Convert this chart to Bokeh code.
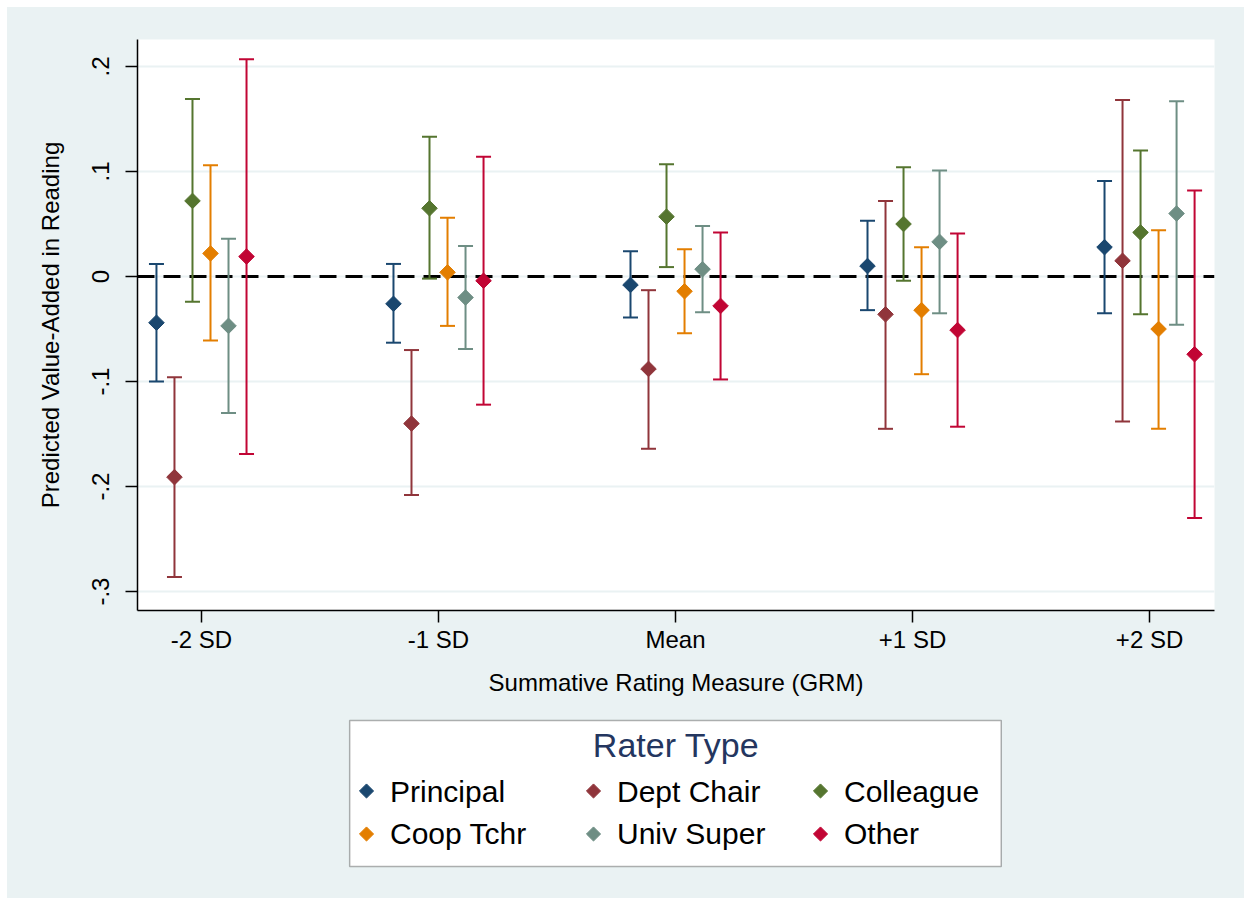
import numpy as np
from bokeh.plotting import figure
from bokeh.layouts import column
from bokeh.models import (ColumnDataSource, Range1d, FixedTicker, Span, Legend,
                          LegendItem, Label, BoxAnnotation)
from bokeh.transform import dodge
from bokeh.embed import file_html
from bokeh.resources import INLINE

# ---------------- data ----------------
categories = ["-2 SD", "-1 SD", "Mean", "+1 SD", "+2 SD"]
raters = ["Principal", "Dept Chair", "Colleague", "Coop Tchr", "Univ Super", "Other"]
colors = ["#1a476f", "#90353b", "#55752f", "#e37e00", "#6e8e84", "#c10534"]

principal_est = [-0.044, -0.026, -0.008, 0.010, 0.028]
principal_lo = [-0.100, -0.063, -0.039, -0.032, -0.035]
principal_hi = [0.012, 0.012, 0.024, 0.053, 0.091]

deptchair_est = [-0.191, -0.140, -0.088, -0.036, 0.015]
deptchair_lo = [-0.286, -0.208, -0.164, -0.145, -0.138]
deptchair_hi = [-0.096, -0.070, -0.013, 0.072, 0.168]

colleague_est = [0.072, 0.065, 0.057, 0.050, 0.042]
colleague_lo = [-0.024, -0.002, 0.009, -0.004, -0.036]
colleague_hi = [0.169, 0.133, 0.107, 0.104, 0.120]

cooptchr_est = [0.022, 0.004, -0.014, -0.032, -0.050]
cooptchr_lo = [-0.061, -0.047, -0.054, -0.093, -0.145]
cooptchr_hi = [0.106, 0.056, 0.026, 0.028, 0.044]

univsuper_est = [-0.047, -0.020, 0.007, 0.033, 0.060]
univsuper_lo = [-0.130, -0.069, -0.034, -0.035, -0.046]
univsuper_hi = [0.036, 0.029, 0.048, 0.101, 0.167]

other_est = [0.019, -0.004, -0.028, -0.051, -0.074]
other_lo = [-0.169, -0.122, -0.098, -0.143, -0.230]
other_hi = [0.207, 0.114, 0.042, 0.041, 0.082]

y_ticks = [-0.3, -0.2, -0.1, 0.0, 0.1, 0.2]
y_tick_labels = ["-.3", "-.2", "-.1", "0", ".1", ".2"]

legend_title = "Rater Type"

series = [
    (principal_est, principal_lo, principal_hi),
    (deptchair_est, deptchair_lo, deptchair_hi),
    (colleague_est, colleague_lo, colleague_hi),
    (cooptchr_est, cooptchr_lo, cooptchr_hi),
    (univsuper_est, univsuper_lo, univsuper_hi),
    (other_est, other_lo, other_hi),
]

FONT = "Liberation Sans"
BG = "#EAF2F3"

x_pos = list(range(1, len(categories) + 1))

# ---------------- main chart ----------------
FIG_W = 1237
BORDER_L, BORDER_R = 130, 30
FRAME_W = FIG_W - BORDER_L - BORDER_R

p = figure(width=FIG_W, height=703,
           x_range=Range1d(0.730, 5.274), y_range=Range1d(-0.318, 0.2257),
           output_backend="svg", toolbar_location=None,
           min_border_left=BORDER_L, min_border_right=BORDER_R,
           min_border_top=32, min_border_bottom=100)
p.background_fill_color = "white"
p.border_fill_color = BG
p.outline_line_color = None

# zero reference line
p.add_layout(Span(location=0, dimension="width", line_color="black",
                  line_width=3, line_dash="17 9", level="underlay"))

step = 0.076
n = len(raters)
for i, (name, col, (e, lo, hi)) in enumerate(zip(raters, colors, series)):
    src = ColumnDataSource(dict(x=x_pos, est=e, lo=lo, hi=hi))
    off = (i - (n - 1) / 2) * step
    xd = dodge("x", off, range=p.x_range)
    p.segment(x0=xd, y0="lo", x1=xd, y1="hi", source=src,
              line_color=col, line_width=2)
    p.scatter(x=xd, y="lo", source=src, marker="dash", size=15,
              line_color=col, line_width=2)
    p.scatter(x=xd, y="hi", source=src, marker="dash", size=15,
              line_color=col, line_width=2)
    p.scatter(x=xd, y="est", source=src, marker="square", angle=np.pi / 4,
              size=11, fill_color=col, line_color=col)

# axes
p.xaxis.ticker = FixedTicker(ticks=x_pos)
p.xaxis.major_label_overrides = {x: c for x, c in zip(x_pos, categories)}
p.yaxis.ticker = FixedTicker(ticks=y_ticks)
p.yaxis.major_label_overrides = {t: l for t, l in zip(y_ticks, y_tick_labels)}
p.yaxis.major_label_orientation = "vertical"

p.xaxis.axis_label = "Summative Rating Measure (GRM)"
p.yaxis.axis_label = "Predicted Value-Added in Reading"

for ax in (p.xaxis[0], p.yaxis[0]):
    ax.axis_line_color = "black"
    ax.axis_line_width = 1.5
    ax.major_tick_line_color = "black"
    ax.major_tick_line_width = 1.5
    ax.major_tick_out = 12
    ax.major_tick_in = 0
    ax.minor_tick_line_color = None
    ax.major_label_text_font = FONT
    ax.major_label_text_font_size = "24px"
    ax.major_label_text_color = "black"
    ax.axis_label_text_font = FONT
    ax.axis_label_text_font_size = "24px"
    ax.axis_label_text_font_style = "normal"
    ax.axis_label_text_color = "black"

p.xaxis.major_label_standoff = 3
p.xaxis.axis_label_standoff = 13
p.yaxis.major_label_standoff = 16
p.yaxis.axis_label_standoff = 26

p.xgrid.visible = False
p.ygrid.ticker = FixedTicker(ticks=y_ticks)
p.ygrid.grid_line_color = BG
p.ygrid.grid_line_width = 2

# ---------------- legend panel ----------------
LG_H = 188
lg = figure(width=FIG_W, height=LG_H, x_range=Range1d(0, 1), y_range=Range1d(0, 1),
            output_backend="svg", toolbar_location=None,
            x_axis_type=None, y_axis_type=None,
            min_border_left=BORDER_L, min_border_right=BORDER_R,
            min_border_top=0, min_border_bottom=0)
lg.background_fill_color = BG
lg.border_fill_color = BG
lg.outline_line_color = None
lg.xgrid.visible = False
lg.ygrid.visible = False

# legend frame box
lg.add_layout(BoxAnnotation(left=0.197, right=0.802, bottom=0.170, top=0.947,
                            fill_color="white", fill_alpha=1.0,
                            line_color="black", line_width=1.5,
                            level="underlay"))

# legend layout constants (screen px inside the legend panel)
LEG_X, LEG_Y = 217, 47
GLYPH = 24
STANDOFF = 12
LABEL_W = 183
SPACING = 8
ROW_H = 35
NCOLS = 3

items = []
for name, col in zip(raters, colors):
    r = lg.scatter(x=[np.nan], y=[np.nan], marker="square",
                   fill_alpha=0, line_alpha=0)
    items.append(LegendItem(label=name, renderers=[r]))

legend = Legend(items=items, ncols=NCOLS, orientation="horizontal",
                location=(LEG_X, LEG_Y),
                label_text_font=FONT, label_text_font_size="30px",
                label_text_color="black",
                glyph_width=GLYPH, glyph_height=GLYPH, label_standoff=STANDOFF,
                label_width=LABEL_W,
                spacing=SPACING, padding=0, margin=0,
                border_line_color=None, background_fill_alpha=0.0)
lg.add_layout(legend)

# diamond keys placed on the legend's glyph slots
nrows = int(np.ceil(len(raters) / NCOLS))
key_x, key_y = [], []
for k in range(len(raters)):
    r_, c_ = divmod(k, NCOLS)
    sx = LEG_X + GLYPH / 2 + c_ * (GLYPH + STANDOFF + LABEL_W + SPACING)
    sy = LEG_Y + ROW_H / 2 + (nrows - 1 - r_) * (ROW_H + SPACING)
    key_x.append(sx / FRAME_W)
    key_y.append(sy / LG_H)
lg.scatter(x=key_x, y=key_y, marker="square", angle=np.pi / 4, size=10,
           fill_color=colors, line_color=colors)

lg.add_layout(Label(x=0.5, y=0.814, text=legend_title,
                    text_align="center", text_baseline="middle",
                    text_font=FONT, text_font_size="34px", text_color="#24365f"))

layout = column(p, lg, spacing=0, margin=(7, 0, 7, 7),
                styles={"background-color": BG})
open("out.html", "w").write(file_html(layout, INLINE))
